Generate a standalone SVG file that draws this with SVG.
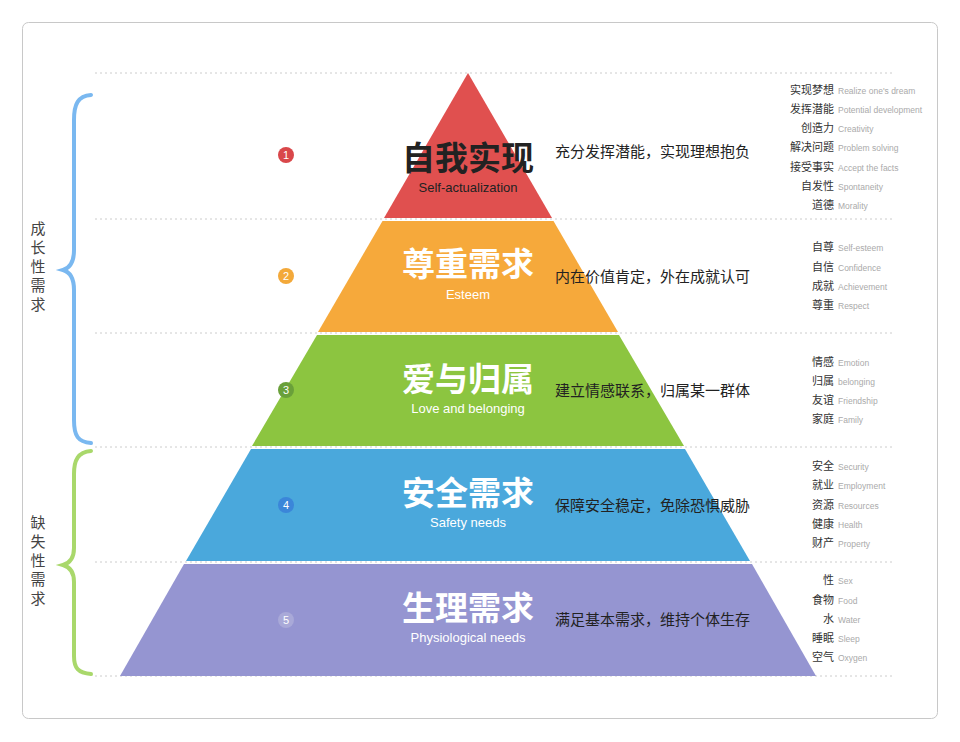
<svg xmlns="http://www.w3.org/2000/svg" width="960" height="742" viewBox="0 0 960 742">
<style>
.dot{stroke:#ccc;stroke-width:1;stroke-dasharray:2 3}
.t{font-family:"Noto Sans CJK SC",sans-serif;font-weight:bold;font-size:33px;text-anchor:middle;fill:#fff}
.s{font-family:"Liberation Sans",sans-serif;font-size:13px;text-anchor:middle;fill:#fff}
.d{font-family:"Noto Sans CJK SC",sans-serif;font-size:15px;fill:#222}
.zh{font-family:"Noto Sans CJK SC",sans-serif;font-size:11px;fill:#333;text-anchor:end}
.en{font-family:"Liberation Sans",sans-serif;font-size:8.5px;fill:#aaa}
.n{font-family:"Liberation Sans",sans-serif;font-size:11px;fill:#fff;text-anchor:middle}
.side{font-family:"Noto Sans CJK SC",sans-serif;font-size:15px;fill:#444;text-anchor:middle}
.br{fill:none;stroke-width:4;stroke-linecap:round}
</style>
<rect x="0" y="0" width="960" height="742" fill="#fff"/>
<rect x="22.5" y="22.5" width="915" height="696" rx="6" fill="#fff" stroke="#c8c8c8"/>
<g id="grid">
<line class="dot" x1="95" y1="73" x2="895" y2="73"/>
<line class="dot" x1="95" y1="219" x2="895" y2="219"/>
<line class="dot" x1="95" y1="333" x2="895" y2="333"/>
<line class="dot" x1="95" y1="447" x2="895" y2="447"/>
<line class="dot" x1="95" y1="562" x2="895" y2="562"/>
<line class="dot" x1="95" y1="676" x2="895" y2="676"/>
</g>
<g id="tier1">
<polygon points="468,73 552,218 384,218" fill="#e0504f"/>
<circle cx="286" cy="155" r="8" fill="#d9474a"/><text class="n" x="286" y="159">1</text>
<text class="t" x="468" y="170" style="fill:#222">自我实现</text>
<text class="s" x="468" y="192" style="fill:#222">Self-actualization</text>
<text class="d" x="555" y="157">充分发挥潜能，实现理想抱负</text>
</g>
<g id="tier2">
<polygon points="382.5,221 553.5,221 618,332 318,332" fill="#f6a93b"/>
<circle cx="286" cy="276" r="8" fill="#f3a93a"/><text class="n" x="286" y="280">2</text>
<text class="t" x="468" y="276">尊重需求</text>
<text class="s" x="468" y="299">Esteem</text>
<text class="d" x="555" y="282">内在价值肯定，外在成就认可</text>
</g>
<g id="tier3">
<polygon points="317,335 619,335 684,446 252,446" fill="#8cc540"/>
<circle cx="286" cy="390" r="8" fill="#6aa03a"/><text class="n" x="286" y="394">3</text>
<text class="t" x="468" y="391">爱与归属</text>
<text class="s" x="468" y="413">Love and belonging</text>
<text class="d" x="555" y="396">建立情感联系，归属某一群体</text>
</g>
<g id="tier4">
<polygon points="251,449 685,449 750,561 186,561" fill="#4aa8dc"/>
<circle cx="286" cy="505" r="8" fill="#3b86d9"/><text class="n" x="286" y="509">4</text>
<text class="t" x="468" y="505">安全需求</text>
<text class="s" x="468" y="527">Safety needs</text>
<text class="d" x="555" y="511">保障安全稳定，免除恐惧威胁</text>
</g>
<g id="tier5">
<polygon points="184,564 752,564 816,676 120,676" fill="#9595d1"/>
<circle cx="286" cy="620" r="8" fill="#a9a9d8"/><text class="n" x="286" y="624">5</text>
<text class="t" x="468" y="620">生理需求</text>
<text class="s" x="468" y="642">Physiological needs</text>
<text class="d" x="555" y="625">满足基本需求，维持个体生存</text>
</g>
<g id="lists">
<text class="zh" x="834" y="94">实现梦想</text><text class="en" x="838" y="94">Realize one's dream</text>
<text class="zh" x="834" y="113">发挥潜能</text><text class="en" x="838" y="113">Potential development</text>
<text class="zh" x="834" y="132">创造力</text><text class="en" x="838" y="132">Creativity</text>
<text class="zh" x="834" y="151">解决问题</text><text class="en" x="838" y="151">Problem solving</text>
<text class="zh" x="834" y="171">接受事实</text><text class="en" x="838" y="171">Accept the facts</text>
<text class="zh" x="834" y="190">自发性</text><text class="en" x="838" y="190">Spontaneity</text>
<text class="zh" x="834" y="209">道德</text><text class="en" x="838" y="209">Morality</text>
<text class="zh" x="834" y="251">自尊</text><text class="en" x="838" y="251">Self-esteem</text>
<text class="zh" x="834" y="271">自信</text><text class="en" x="838" y="271">Confidence</text>
<text class="zh" x="834" y="290">成就</text><text class="en" x="838" y="290">Achievement</text>
<text class="zh" x="834" y="309">尊重</text><text class="en" x="838" y="309">Respect</text>
<text class="zh" x="834" y="366">情感</text><text class="en" x="838" y="366">Emotion</text>
<text class="zh" x="834" y="385">归属</text><text class="en" x="838" y="385">belonging</text>
<text class="zh" x="834" y="404">友谊</text><text class="en" x="838" y="404">Friendship</text>
<text class="zh" x="834" y="423">家庭</text><text class="en" x="838" y="423">Family</text>
<text class="zh" x="834" y="470">安全</text><text class="en" x="838" y="470">Security</text>
<text class="zh" x="834" y="489">就业</text><text class="en" x="838" y="489">Employment</text>
<text class="zh" x="834" y="509">资源</text><text class="en" x="838" y="509">Resources</text>
<text class="zh" x="834" y="528">健康</text><text class="en" x="838" y="528">Health</text>
<text class="zh" x="834" y="547">财产</text><text class="en" x="838" y="547">Property</text>
<text class="zh" x="834" y="584">性</text><text class="en" x="838" y="584">Sex</text>
<text class="zh" x="834" y="604">食物</text><text class="en" x="838" y="604">Food</text>
<text class="zh" x="834" y="623">水</text><text class="en" x="838" y="623">Water</text>
<text class="zh" x="834" y="642">睡眠</text><text class="en" x="838" y="642">Sleep</text>
<text class="zh" x="834" y="661">空气</text><text class="en" x="838" y="661">Oxygen</text>
</g>
<g id="braces">
<path class="br" stroke="#7ab8f0" d="M91,95 C78,96 74,104 74,120 L74,250 C74,262 70,268 63,270 C70,272 74,278 74,290 L74,420 C74,436 78,442 91,443"/>
<path class="br" stroke="#a9d86b" d="M91,451 C78,452 74,460 74,474 L74,548 C74,558 70,563 63,565 C70,567 74,572 74,582 L74,656 C74,668 78,673 91,674"/>
<text class="side" x="38" y="234">成</text><text class="side" x="38" y="253">长</text><text class="side" x="38" y="272">性</text><text class="side" x="38" y="291">需</text><text class="side" x="38" y="310">求</text>
<text class="side" x="38" y="528">缺</text><text class="side" x="38" y="547">失</text><text class="side" x="38" y="566">性</text><text class="side" x="38" y="585">需</text><text class="side" x="38" y="604">求</text>
</g>
</svg>
